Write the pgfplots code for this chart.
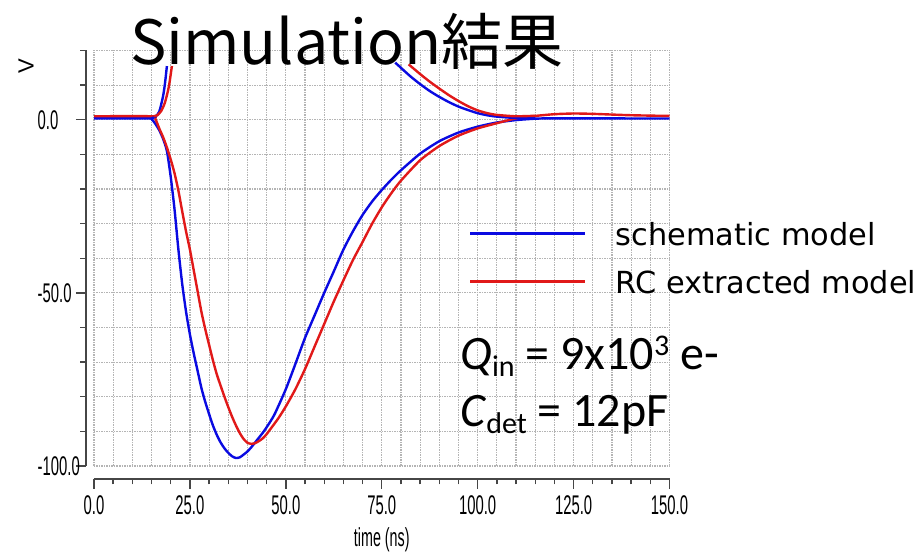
\documentclass[border=0pt]{standalone}
\usepackage{pgfplots}
\pgfplotsset{compat=1.18}
\usepackage{fontspec}
\setmainfont{Liberation Sans}
\newfontfamily\condfont[FakeStretch=0.55]{Liberation Sans}
\newfontfamily\cjkfont{Noto Sans CJK JP}
\newfontfamily\legfont{DejaVu Sans}
\newfontfamily\calfont{Carlito}
\definecolor{cblue}{RGB}{10,10,225}
\definecolor{cred}{RGB}{225,25,25}
\definecolor{gridc}{RGB}{180,180,180}
\definecolor{axc}{RGB}{70,70,70}

\pgfplotstableread{
t v
0 0.4
14 0.4
15 0.2
16 -1.2
17 -3
18 -5.5
19 -9
20 -16.5
21 -26
22 -37.5
23 -47.5
24 -55.5
25 -62
26 -67.5
27 -72.5
28 -77.5
29 -81.5
30 -85
31 -88.3
32 -91
33 -93.2
34 -94.9
35 -96.2
36 -97.2
37 -97.7
38 -97.5
39 -96.7
40 -95.8
41 -94.6
42 -93.2
43 -91.8
44 -90.4
45 -88.8
47 -85.2
50 -77.8
52.5 -70.5
55 -63
57.5 -56.5
60 -50
62.5 -43.8
65 -37.5
67.5 -32.2
70 -27.5
72.5 -23.6
75 -20.3
77.5 -17.3
80 -14.6
85 -9.8
90 -6.2
95 -3.7
100 -2
105 -0.8
110 -0.1
115 0.3
120 0.4
150 0.35
}\bluelow

\pgfplotstableread{
t v
0 1.0
15 1.0
16 0.2
17 -2.5
18 -5
19 -8
20 -11.5
21 -15.5
22 -20.5
23 -26.5
24 -32.3
25 -37.5
26 -43.5
27 -49.5
28 -55.5
29 -60.5
30 -65
31 -69.5
32 -73.5
33 -76.8
34 -80
35 -83
36 -85.8
37 -88.3
38 -90.5
39 -92.2
40 -93.3
41 -93.6
42 -93.4
43 -92.8
44 -92
45 -90.8
46 -89.3
48 -86.3
50 -82.8
52.5 -77.8
55 -72
57.5 -65.5
60 -59
62.5 -52.5
65 -46.4
67.5 -40.5
70 -35.3
72.5 -30
75 -25.3
77.5 -21.2
80 -17.6
85 -11.7
90 -7.6
95 -4.6
100 -2.5
105 -1
110 0.4
115 1.1
120 1.6
125 1.8
130 1.7
140 1.3
150 1.1
}\redlow

\pgfplotstableread{
t v
15 0.4
16 0.9
17 2.3
18 6.8
18.5 10.5
19 15.5
}\blueupA

\pgfplotstableread{
t v
78.5 16.5
80 15
82.5 12.5
85 10.3
87.5 8.3
90 6.6
92.5 5.1
95 3.8
97.5 2.8
100 1.9
102.5 1.3
105 0.9
110 0.5
115 0.4
}\blueupB

\pgfplotstableread{
t v
15.5 1.0
16.5 1.3
17.5 2.5
18.5 5
19.5 9.5
20.3 15.5
}\redupA

\pgfplotstableread{
t v
82 16
85 13.2
87.5 11
90 9
92.5 7.1
95 5.4
97.5 3.9
100 2.7
102.5 1.9
105 1.4
110 1.0
115 1.15
}\redupB

\begin{document}
\begin{tikzpicture}[x=1pt,y=1pt]
\path[use as bounding box] (0,0) rectangle (922,553);
\begin{axis}[
  at={(94pt,87pt)}, anchor=south west,
  scale only axis, width=575.5pt, height=415.5pt,
  xmin=0, xmax=150, ymin=-100, ymax=20,
  separate axis lines,
  axis x line*=bottom, axis y line*=left,
  axis x line shift=13pt, axis y line shift=8pt,
  axis line style={axc, line width=1.8pt, -},
  xtick={0,25,...,150},
  xticklabels={0.0,25.0,50.0,75.0,100.0,125.0,150.0},
  minor xtick={5,10,15,20,30,35,40,45,55,60,65,70,80,85,90,95,105,110,115,120,130,135,140,145},
  ytick={-100,-50,0},
  yticklabels={-100.0,-50.0,0.0},
  minor ytick={-90,-80,-70,-60,-40,-30,-20,-10,10,20},
  grid=both,
  major grid style={gridc, line width=1.2pt, dash pattern=on 1.5pt off 1pt},
  minor grid style={gridc, line width=1.2pt, dash pattern=on 1.5pt off 1pt},
  tick align=outside,
  major tick length=10pt, minor tick length=5.5pt,
  tick style={axc, line width=1.4pt},
  xticklabel style={font=\condfont\fontsize{27}{27}\selectfont, inner sep=1pt, yshift=-5pt},
  yticklabel style={font=\condfont\fontsize{27}{27}\selectfont, anchor=west, inner sep=0pt, xshift=-38.5pt},
  xlabel={time (ns)},
  xlabel style={font=\condfont\fontsize{26}{26}\selectfont, inner sep=0pt, yshift=-12pt},
  legend cell align=left,
  legend style={at={(axis cs:97.6,-29.7)}, anchor=north west, draw=none, fill=none,
    inner sep=0pt, row sep=23pt, font=\legfont\fontsize{30.4}{30.4}\selectfont,
    nodes={inner sep=0pt},
    /tikz/every odd column/.append style={column sep=29pt}},
  legend image code/.code={\draw[#1, line width=3pt] (0pt,1.2pt) -- (115pt,1.2pt);},
]
\addplot[cblue, line width=2.4pt, line join=round, smooth, tension=0.4] table[x=t,y=v] {\bluelow};
\addlegendentry{schematic model}
\addplot[cred, line width=2.4pt, line join=round, smooth, tension=0.4] table[x=t,y=v] {\redlow};
\addlegendentry{RC extracted model}
\addplot[cblue, line width=2.4pt, line join=round, smooth, tension=0.4, forget plot] table[x=t,y=v] {\blueupA};
\addplot[cblue, line width=2.4pt, line join=round, smooth, tension=0.4, forget plot] table[x=t,y=v] {\blueupB};
\addplot[cred, line width=2.4pt, line join=round, smooth, tension=0.4, forget plot] table[x=t,y=v] {\redupA};
\addplot[cred, line width=2.4pt, line join=round, smooth, tension=0.4, forget plot] table[x=t,y=v] {\redupB};
\end{axis}
\node[rotate=90, inner sep=0pt] at (26,487) {\fontsize{22}{22}\selectfont V};
\node[anchor=base west, inner sep=0pt] at (130,488) {\cjkfont\fontsize{61}{61}\selectfont Simulation結果};
\node[anchor=base west, inner sep=0pt] at (460,183) {\calfont\fontsize{48}{48}\selectfont\textit{Q}\raisebox{-0.14em}{\fontsize{30}{30}\selectfont in} = 9x10\raisebox{0.3em}{\fontsize{30}{30}\selectfont 3} e-};
\node[anchor=base west, inner sep=0pt] at (460,126) {\calfont\fontsize{48}{48}\selectfont\textit{C}\raisebox{-0.14em}{\fontsize{30}{30}\selectfont det} = 12pF};
\end{tikzpicture}
\end{document}
